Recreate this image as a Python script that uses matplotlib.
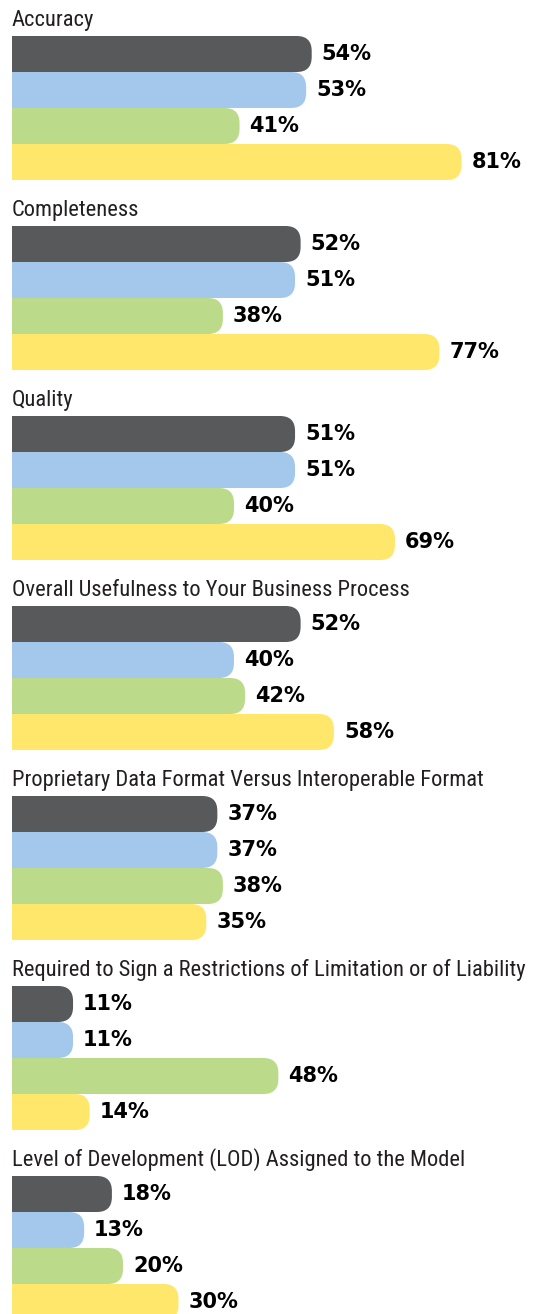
import matplotlib.pyplot as plt
from matplotlib.patches import FancyBboxPatch, Rectangle

# -- data -- #
titles = [
    "Accuracy",
    "Completeness",
    "Quality",
    "Overall Usefulness to Your Business Process",
    "Proprietary Data Format Versus Interoperable Format",
    "Required to Sign a Restrictions of Limitation or of Liability",
    "Level of Development (LOD) Assigned to the Model",
]
series_dark = [54, 52, 51, 52, 37, 11, 18]
series_blue = [53, 51, 51, 40, 37, 11, 13]
series_green = [41, 38, 40, 42, 38, 48, 20]
series_yellow = [81, 77, 69, 58, 35, 14, 30]

colors = ["#58595b", "#a3c8eb", "#bbdb8b", "#fee76b"]

# -- layout (pixels, converted to percent units so the axes keep equal aspect) -- #
W, H = 533, 1314
scale = 5.55  # pixels per percent
left_px = 12
group_px = 190
first_px = 36
bar_px = 36
radius_px = 15
gap_px = 10


def px(v):
    return v / scale


fig = plt.figure(figsize=(W / 100, H / 100), dpi=100)
ax = fig.add_axes([0, 0, 1, 1])
ax.set_xlim(-px(left_px), px(W - left_px))
ax.set_ylim(px(H), 0)
ax.axis("off")

all_series = [series_dark, series_blue, series_green, series_yellow]
r = px(radius_px)
h = px(bar_px)

for g, title in enumerate(titles):
    top = px(first_px + g * group_px)
    ax.text(0, top - px(10), title, fontsize=16.2, color="#231f20",
            family=["Roboto Condensed", "Liberation Sans Narrow", "Liberation Sans"],
            va="baseline", ha="left")
    for i, series in enumerate(all_series):
        v = series[g]
        y = top + i * h
        ax.add_patch(FancyBboxPatch((0, y), v, h,
                                    boxstyle=f"round,pad=0,rounding_size={r}",
                                    facecolor=colors[i], edgecolor="none", lw=0))
        ax.add_patch(Rectangle((0, y), min(r, v), h, facecolor=colors[i],
                               edgecolor="none", lw=0))
        ax.text(v + px(gap_px), y + h / 2, f"{v}%", fontsize=15, fontweight="bold",
                color="black", va="center", ha="left")

fig.savefig("out.png", dpi=100)
